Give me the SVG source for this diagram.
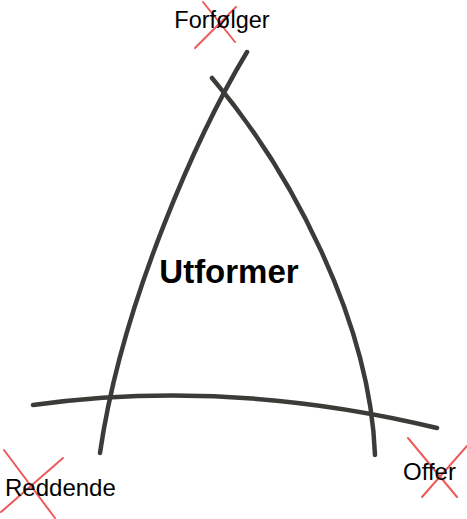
<svg xmlns="http://www.w3.org/2000/svg" width="467" height="519" viewBox="0 0 467 519">
<style>
.c{fill:none;stroke:#3b3b37;stroke-width:4.5;stroke-linecap:round}
.x{stroke:#ee5a5a;stroke-width:2;stroke-linecap:round;fill:none}
.t{font-family:"Liberation Sans",Arial,sans-serif;fill:#000}
</style>
<rect width="467" height="519" fill="#fff"/>
<g id="connectors">
<path class="c" d="M247,52 C200,130 122,300 100,453"/>
<path class="c" d="M212,78 C290,170 370,320 375,455"/>
<path class="c" d="M33,405 Q230,378 437,428"/>
</g>
<g id="forfolger">
<path class="x" d="M203,2 L235,42 M236,7 L195,48"/>
<text class="t" x="222" y="28" font-size="23.5" text-anchor="middle">Forfølger</text>
</g>
<g id="reddende">
<path class="x" d="M4,450 L55,518 M63,458 L1,512"/>
<text class="t" x="5" y="496" font-size="24">Reddende</text>
</g>
<g id="offer">
<path class="x" d="M408,438 L457,497 M467,446 L422,497"/>
<text class="t" x="403" y="480" font-size="24">Offer</text>
</g>
<g id="utformer">
<text class="t" x="229" y="283" font-size="33" font-weight="bold" text-anchor="middle">Utformer</text>
</g>
</svg>
